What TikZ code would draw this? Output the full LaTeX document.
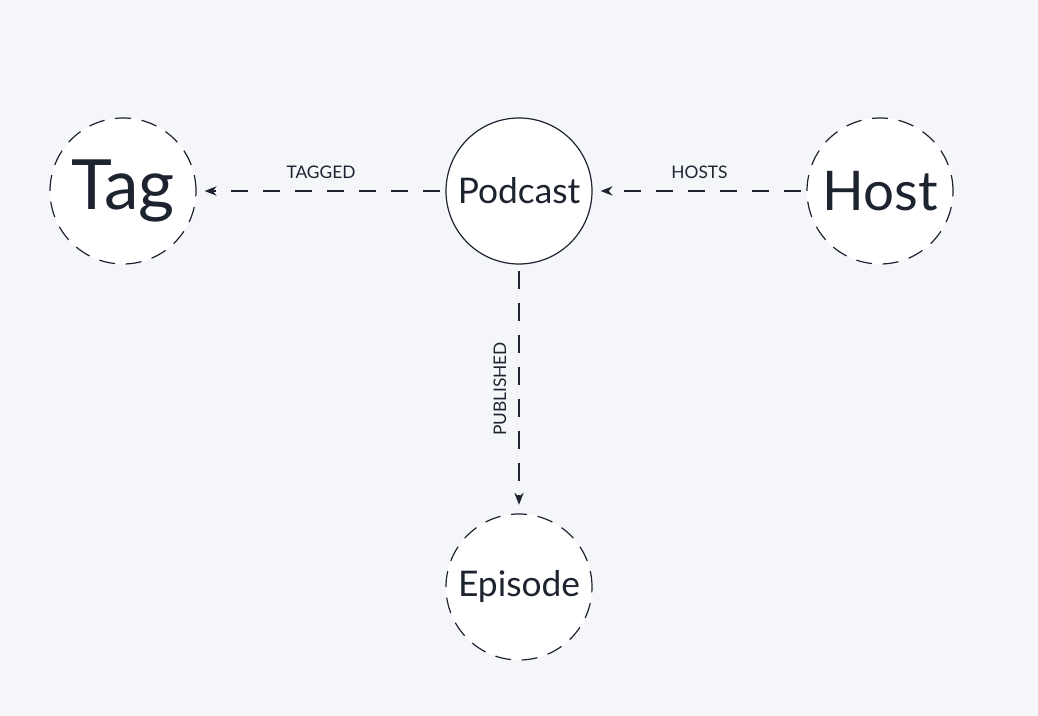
\documentclass[tikz,border=0pt]{standalone}
\usepackage{fontspec}
\setmainfont{Lato}
\usetikzlibrary{arrows.meta}
\definecolor{bg}{HTML}{F5F6FA}
\definecolor{ink}{HTML}{1E2330}
\tikzset{
  ent/.style={circle, draw=ink, fill=white, line width=0.9pt, minimum size=109.5pt, inner sep=0pt, text=ink},
  entdash/.style={ent, dash pattern=on 12pt off 8pt},
  rel/.style={draw=ink, line width=0.95pt, dash pattern=on 13pt off 11pt, -{Stealth[length=9pt,width=7pt]}},
  lab/.style={text=ink, font=\fontsize{13}{15}\selectfont, inner sep=0pt}
}
\begin{document}
\begin{tikzpicture}[x=0.75pt,y=-0.75pt]
\fill[bg] (0,0) rectangle (1038,716);
\useasboundingbox (0,0) rectangle (1038,716);
\node[entdash, font=\fontsize{52}{56}\selectfont] (tag) at (123,191) {Tag};
\node[ent, font=\fontsize{26.5}{30}\selectfont] (podcast) at (519,191) {Podcast};
\node[entdash, font=\fontsize{41}{50}\selectfont] (host) at (880,191) {Host};
\node[entdash, font=\fontsize{26.5}{30}\selectfont] (episode) at (519,587) {Episode};
\draw[rel, shorten <=4pt, shorten >=6pt] (podcast) -- (tag) node[midway, above=9pt, lab] {TAGGED};
\draw[rel, shorten <=4pt, shorten >=6pt] (host) -- (podcast) node[midway, above=9pt, lab] {HOSTS};
\draw[rel, shorten <=5pt, shorten >=6.5pt] (podcast) -- (episode) node[midway, left=9pt, lab, rotate=90, anchor=south] {PUBLISHED};
\end{tikzpicture}
\end{document}
